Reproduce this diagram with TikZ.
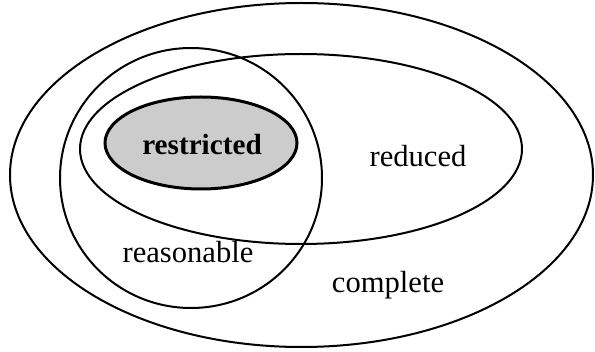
\documentclass[tikz,border=0pt]{standalone}
\usepackage{fontspec}
\setmainfont{Liberation Serif}

\begin{document}
\begin{tikzpicture}[
  x=0.5pt,y=-0.5pt,
  setline/.style={draw=black,line width=1pt},
  core/.style={draw=black,line width=1.5pt,fill=gray!40},
  lbl/.style={font=\fontsize{15.3}{18}\selectfont,inner sep=0pt,anchor=base},
  corelbl/.style={font=\fontsize{14.6}{18}\selectfont\bfseries,inner sep=0pt,anchor=base}
]
  \useasboundingbox (0,0) rectangle (595,352);
  % the nested sets
  \draw[setline] (301.5,175) ellipse [x radius=291.5, y radius=172];
  \draw[setline] (301,149) ellipse [x radius=221, y radius=95];
  \draw[setline] (191,178) ellipse [x radius=131, y radius=130];
  \draw[core]    (201,143) ellipse [x radius=96, y radius=46];

  \node[corelbl](restricted) at (202,155) {restricted};
  \node[lbl]    (reduced)    at (418,167) {reduced};
  \node[lbl]    (reasonable) at (188,263) {reasonable};
  \node[lbl]    (complete)   at (388,293) {complete};
\end{tikzpicture}
\end{document}
